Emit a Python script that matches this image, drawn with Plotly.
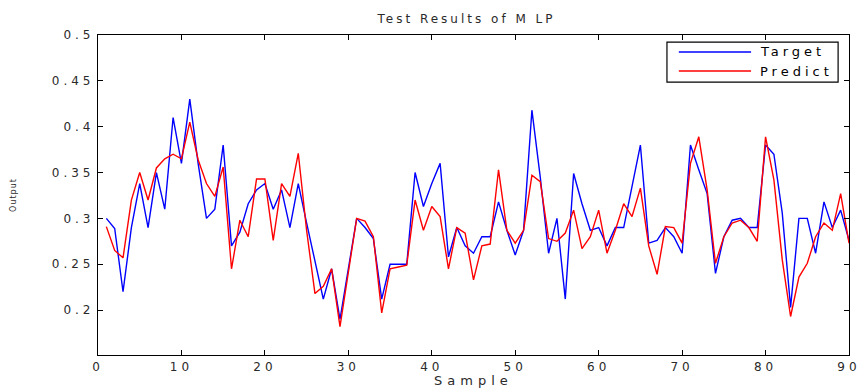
import plotly.graph_objects as go

# Sample index and network outputs
samples = list(range(1, 91))

target = [
    0.300, 0.289, 0.220, 0.290, 0.338, 0.290, 0.350, 0.310, 0.410, 0.360,
    0.430, 0.360, 0.300, 0.310, 0.380, 0.270, 0.285, 0.316, 0.331, 0.338,
    0.310, 0.331, 0.290, 0.338, 0.295, 0.255, 0.212, 0.245, 0.190, 0.245,
    0.300, 0.290, 0.278, 0.212, 0.250, 0.250, 0.250, 0.350, 0.313, 0.338,
    0.360, 0.258, 0.290, 0.270, 0.262, 0.280, 0.280, 0.318, 0.287, 0.260,
    0.287, 0.418, 0.345, 0.262, 0.300, 0.212, 0.349, 0.316, 0.287, 0.290,
    0.270, 0.290, 0.290, 0.335, 0.380, 0.273, 0.276, 0.290, 0.280, 0.262,
    0.380, 0.353, 0.327, 0.240, 0.280, 0.298, 0.300, 0.290, 0.290, 0.380,
    0.370, 0.306, 0.203, 0.300, 0.300, 0.262, 0.318, 0.290, 0.309, 0.276,
]

predict = [
    0.291, 0.265, 0.257, 0.320, 0.350, 0.320, 0.355, 0.365, 0.370, 0.365,
    0.405, 0.364, 0.338, 0.324, 0.356, 0.245, 0.298, 0.280, 0.343, 0.343,
    0.276, 0.338, 0.324, 0.371, 0.287, 0.218, 0.226, 0.245, 0.182, 0.240,
    0.300, 0.297, 0.280, 0.197, 0.245, 0.247, 0.249, 0.320, 0.287, 0.313,
    0.302, 0.245, 0.290, 0.284, 0.233, 0.270, 0.272, 0.353, 0.287, 0.273,
    0.287, 0.347, 0.340, 0.278, 0.275, 0.284, 0.309, 0.267, 0.280, 0.309,
    0.262, 0.287, 0.316, 0.302, 0.333, 0.270, 0.239, 0.291, 0.290, 0.273,
    0.360, 0.389, 0.331, 0.251, 0.280, 0.295, 0.298, 0.290, 0.275, 0.389,
    0.342, 0.255, 0.193, 0.236, 0.251, 0.280, 0.295, 0.287, 0.327, 0.273,
]

series_names = ["Target", "Predict"]
series_colors = ["#0000ff", "#ff0000"]

x_ticks = [0, 10, 20, 30, 40, 50, 60, 70, 80, 90]
y_ticks = [0.2, 0.25, 0.3, 0.35, 0.4, 0.45, 0.5]
y_tick_text = ["0.2", "0.25", "0.3", "0.35", "0.4", "0.45", "0.5"]

font_family = "DejaVu Sans, Verdana, sans-serif"
text_color = "#2a2a2a"

WIDTH, HEIGHT = 868, 388
MARGIN = dict(l=98, r=11, t=35, b=33)
plot_w = WIDTH - MARGIN["l"] - MARGIN["r"]

# letter spacing (px) applied to the different text groups
TICK_SPACING = 4
TITLE_SPACING = 3
LEGEND_SPACING = 4
XTITLE_SPACING = 5

fig = go.Figure()
for name, values, color in zip(series_names, [target, predict], series_colors):
    fig.add_trace(go.Scatter(x=samples, y=values, mode="lines", name=name,
                             line=dict(color=color, width=1.4), showlegend=False))

axis_common = dict(
    showgrid=False, zeroline=False, showline=True, linecolor="black",
    linewidth=1.2, mirror="ticks", ticks="inside", ticklen=5,
    tickcolor="black", tickfont=dict(family=font_family, size=12, color=text_color),
)

# Boxed legend in the upper right corner of the axes
legend_box = dict(x0=0.7576, x1=0.9855, y0=0.853, y1=0.978)
legend_rows_y = [0.947, 0.8875]
legend_text_left = 0.8788
shapes = [dict(type="rect", xref="paper", yref="paper", line=dict(color="black", width=1.2),
               fillcolor="white", **legend_box)]
annotations = []
for name, color, row_y in zip(series_names, series_colors, legend_rows_y):
    shapes.append(dict(type="line", xref="paper", yref="paper", x0=0.7734, x1=0.8696,
                       y0=row_y, y1=row_y, line=dict(color=color, width=1.4)))
    # spaced text grows symmetrically about the box centre, so shift the box right
    shift = len(name) * LEGEND_SPACING / 2 / plot_w
    annotations.append(dict(text=name, xref="paper", yref="paper", x=legend_text_left + shift,
                            y=row_y, xanchor="left", yanchor="middle", showarrow=False,
                            font=dict(family=font_family, size=13, color="black")))

# Axis titles
annotations.append(dict(text="Sample", xref="paper", yref="paper", x=0.5, y=-0.08,
                        xanchor="center", yanchor="middle", showarrow=False,
                        font=dict(family=font_family, size=13, color=text_color)))
annotations.append(dict(text="Output", xref="paper", yref="paper", x=-0.1133, y=0.5,
                        xanchor="center", yanchor="middle", showarrow=False, textangle=-90,
                        font=dict(family=font_family, size=8, color=text_color)))

fig.update_layout(
    width=WIDTH, height=HEIGHT,
    margin=MARGIN,
    paper_bgcolor="white", plot_bgcolor="white",
    title=dict(text="Test Results of M LP", xref="paper", x=0.4907, xanchor="center",
               yref="container", y=0.951, yanchor="middle",
               font=dict(family=font_family, size=12, color=text_color)),
    xaxis=dict(range=[0, 90], tickvals=x_ticks, **axis_common),
    yaxis=dict(range=[0.151, 0.5], tickvals=y_ticks, ticktext=y_tick_text, **axis_common),
    shapes=shapes,
    annotations=annotations,
    showlegend=False,
)

# Wide letter spacing for the labels
post_script = f"""
var s = document.createElement('style');
s.textContent = '.xtick text, .ytick text {{letter-spacing: {TICK_SPACING}px;}}'
  + ' .gtitle {{letter-spacing: {TITLE_SPACING}px;}}'
  + ' .annotation-text {{letter-spacing: {LEGEND_SPACING}px;}}';
document.head.appendChild(s);
var notes = document.querySelectorAll('.annotation-text');
notes.forEach(function (t) {{
  if (t.textContent === 'Sample') t.style.letterSpacing = '{XTITLE_SPACING}px';
  if (t.textContent === 'Output') t.style.letterSpacing = '1px';
}});
"""

fig.write_html("out.html", post_script=post_script)
